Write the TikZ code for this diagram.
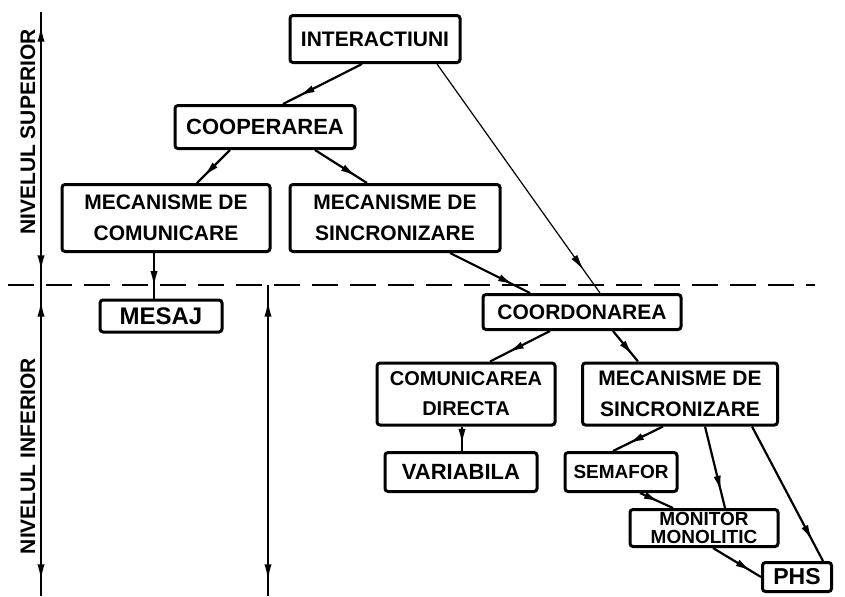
\documentclass[tikz,border=0pt]{standalone}
\usepackage{fontspec}
\setsansfont{Liberation Sans}
\usetikzlibrary{arrows.meta,decorations.markings}

\newcommand{\boxfont}[2]{\sffamily\bfseries\fontsize{#1}{#2}\selectfont}

\tikzset{
  box/.style={draw, line width=1.5pt, rounded corners=1.5pt, inner sep=0pt,
    align=center, font=\boxfont{10.5}{15.5}},
  link/.style={line width=1.1pt, postaction={decorate},
    decoration={markings, mark=at position #1 with {\arrow{Latex[length=8pt,width=3.6pt]}}}},
  link/.default=0.8,
  dimline/.style={line width=1pt, postaction={decorate},
    decoration={markings,
      mark=at position 0.05 with {\arrowreversed{Latex[length=8pt,width=3.6pt]}},
      mark=at position 0.95 with {\arrow{Latex[length=8pt,width=3.6pt]}}}},
  level/.style={rotate=90, font=\boxfont{10.5}{12}}
}

\begin{document}
\begin{tikzpicture}[x=0.5pt, y=-0.5pt]

  \useasboundingbox (0,0) rectangle (845,596);

  % Define nodes
  \node[box, minimum width=85pt, minimum height=23.5pt, font=\boxfont{10.5}{12}]
    (inter) at (375,39) {INTERACTIUNI};
  \node[box, minimum width=90pt, minimum height=21.5pt, font=\boxfont{11}{13}] (coop) at (265,127) {COOPERAREA};
  \node[box, minimum width=104pt, minimum height=33.5pt] (mcom) at (166,218) {MECANISME DE\\COMUNICARE};
  \node[box, minimum width=105pt, minimum height=33.5pt] (msinc) at (395,218) {MECANISME DE\\SINCRONIZARE};
  \node[box, minimum width=61pt, minimum height=16pt, font=\boxfont{12}{14}] (mesaj) at (161,316) {MESAJ};
  \node[box, minimum width=99pt, minimum height=17.5pt] (coord) at (582,312) {COORDONAREA};
  \node[box, minimum width=89pt, minimum height=31pt, font=\boxfont{10}{15}] (cdir) at (466,394) {COMUNICAREA\\DIRECTA};
  \node[box, minimum width=97.5pt, minimum height=31pt] (msinc2) at (680,394) {MECANISME DE\\SINCRONIZARE};
  \node[box, minimum width=76pt, minimum height=19.5pt, font=\boxfont{11}{13}] (var) at (461,472) {VARIABILA};
  \node[box, minimum width=56pt, minimum height=19.5pt, font=\boxfont{9.5}{11}] (sem) at (621,472) {SEMAFOR};
  \node[box, minimum width=74pt, minimum height=18.5pt, font=\boxfont{9.5}{9}]
    (mon) at (704,528) {MONITOR\\MONOLITIC};
  \node[box, minimum width=34.5pt, minimum height=14.5pt, font=\boxfont{11.5}{13}] (phs) at (797,577) {PHS};

  % Levels
  \coordinate (axtop) at (41,12);
  \coordinate (axmid) at (41,285);
  \coordinate (axbot) at (41,596);
  \coordinate (dashl) at (8,285);
  \coordinate (dashr) at (815,285);
  \coordinate (sptop) at (268,285);
  \coordinate (spbot) at (268,596);

  \draw[line width=1.1pt, dash pattern=on 13pt off 6pt] (dashl) -- (dashr);
  \draw[dimline] (axtop) -- (axmid);
  \draw[dimline] (axmid) -- (axbot);
  \draw[dimline] (sptop) -- (spbot);

  \node[level] (sup) at (28,132) {NIVELUL SUPERIOR};
  \node[level] (inf) at (28,456) {NIVELUL INFERIOR};

  % Connect the nodes
  \draw[link] ([xshift=-6.5pt]inter.south) -- ([xshift=9pt]coop.north);
  \draw[link=0.9, line width=0.6pt] ([xshift=31pt]inter.south) -- ([xshift=9pt]coord.north);
  \draw[link] ([xshift=-17.5pt]coop.south) -- ([xshift=15.5pt]mcom.north);
  \draw[link] ([xshift=25pt]coop.south) -- ([xshift=-14pt]msinc.north);
  \draw[link] ([xshift=27.5pt]msinc.south) -- ([xshift=-26pt]coord.north);
  \draw[link=0.75] ([xshift=-6pt]mcom.south) -- ([xshift=-6pt]mcom.south |- mesaj.north);
  \draw[link=0.7] ([xshift=-16pt]coord.south) -- ([xshift=12pt]cdir.north);
  \draw[link] ([xshift=15.5pt]coord.south) -- ([xshift=-21pt]msinc2.north);
  \draw[link=0.75] ([xshift=-2pt]cdir.south) -- ([xshift=-2pt]cdir.south |- var.north);
  \draw[link=0.7] ([xshift=-8.5pt]msinc2.south) -- ([xshift=-4pt]sem.north);
  \draw[link] ([xshift=12.5pt]msinc2.south) -- ([xshift=10.5pt]mon.north);
  \draw[link=0.85] ([xshift=36pt]msinc2.south) -- ([xshift=13pt]phs.north);
  \draw[link=0.6] ([xshift=9.5pt]sem.south) -- ([xshift=-15.5pt]mon.north);
  \draw[link] ([xshift=4.5pt]mon.south) -- (phs.west);

\end{tikzpicture}
\end{document}
